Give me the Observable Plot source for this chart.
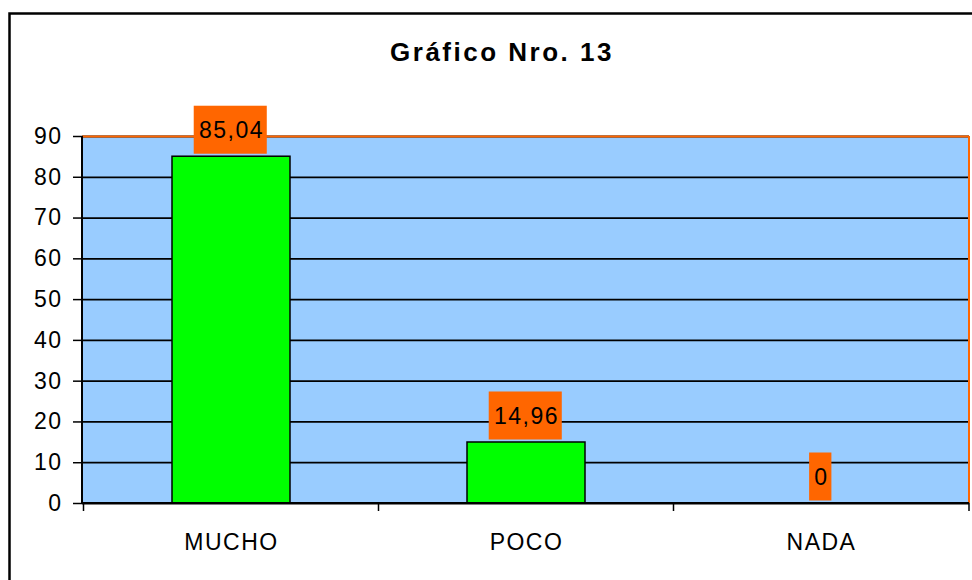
<!DOCTYPE html>
<html>
<head>
<meta charset="utf-8">
<script src="https://cdn.jsdelivr.net/npm/d3@7"></script>
<script src="https://cdn.jsdelivr.net/npm/@observablehq/plot@0.6"></script>
<style>
  html, body { margin: 0; padding: 0; background: white; }
  svg { display: block; }
  .chart text { letter-spacing: 1.5px; }
  .chart g[font-weight="bold"] text, .chart g[font-weight="bold"] { letter-spacing: 2.5px; }
</style>
</head>
<body>
<div id="chart"></div>
<script>
const title = "Gráfico Nro. 13";
const categories = ["MUCHO", "POCO", "NADA"];
const values = [85.04, 14.96, 0];
const valueLabels = ["85,04", "14,96", "0"];
const yTicks = [0, 10, 20, 30, 40, 50, 60, 70, 80, 90];

const data = categories.map((c, i) => ({category: c, value: values[i], label: valueLabels[i]}));

const ORANGE = "#FF6600";
const FONT = "'Liberation Sans', Arial, sans-serif";

// axis lines, category boundary ticks, orange plot-area edge, outer chart border
function axesDecor(index, scales, values, dims) {
  const {x, y} = scales;
  const g = d3.create("svg:g");
  const [x0, x1] = x.range();
  const yb = y(yTicks[0]);
  const yt = y(yTicks[yTicks.length - 1]);
  const edges = categories.map(c => x(c) + x.bandwidth() / 2 - x.step() / 2).concat([x1]);
  g.append("line").attr("x1", x1).attr("x2", x1).attr("y1", yt).attr("y2", yb)
    .attr("stroke", ORANGE).attr("stroke-width", 2);
  g.selectAll(".bt").data(edges).join("line")
    .attr("x1", d => d).attr("x2", d => d).attr("y1", yb).attr("y2", yb + 8)
    .attr("stroke", "black").attr("stroke-width", 1.5);
  g.append("line").attr("x1", x0).attr("x2", x1).attr("y1", yb).attr("y2", yb)
    .attr("stroke", "black").attr("stroke-width", 2);
  g.append("line").attr("x1", x0).attr("x2", x0).attr("y1", yt).attr("y2", yb)
    .attr("stroke", "black").attr("stroke-width", 2);
  g.append("rect").attr("x", 9.5).attr("y", 13.5)
    .attr("width", dims.width + 40).attr("height", dims.height + 40)
    .attr("fill", "none").attr("stroke", "black").attr("stroke-width", 2.5);
  return g.node();
}

// orange boxes behind the value labels, sized from the measured label text
const measureCtx = document.createElement("canvas").getContext("2d");
function labelBoxes(index, scales) {
  const {x, y} = scales;
  measureCtx.font = `23px ${FONT}`;
  const g = d3.create("svg:g");
  g.selectAll("rect").data(data).join("rect")
    .attr("width", d => measureCtx.measureText(d.label).width + 1.5 * d.label.length + 8)
    .attr("x", function(d) { return x(d.category) + x.bandwidth() / 2 - (+this.getAttribute("width")) / 2 - 0.75; })
    .attr("y", d => y(d.value) - 50.5)
    .attr("height", 48)
    .attr("fill", ORANGE);
  return g.node();
}

const plot = Plot.plot({
  width: 972,
  height: 580,
  marginLeft: 82,
  marginRight: 3,
  marginTop: 136,
  marginBottom: 77,
  className: "chart",
  style: {fontFamily: FONT, fontSize: "23px", color: "black", background: "white"},
  x: {domain: categories, paddingInner: 0.6, paddingOuter: 0.3, label: null},
  y: {domain: [0, 90], label: null},
  marks: [
    Plot.frame({fill: "#99CCFF", stroke: null}),
    Plot.gridY(yTicks, {stroke: "black", strokeOpacity: 1, strokeWidth: 1.8}),
    Plot.ruleY([yTicks[yTicks.length - 1]], {stroke: ORANGE, strokeWidth: 2}),
    Plot.barY(data, {x: "category", y: "value", fill: "#00FF00", stroke: "black", strokeWidth: 1.5}),
    axesDecor,
    Plot.axisY({ticks: yTicks, tickSize: 9, tickPadding: 11, fontSize: 23, strokeWidth: 1.5, label: null}),
    Plot.axisX({tickSize: 0, tickPadding: 30, fontSize: 23, label: null}),
    labelBoxes,
    Plot.text(data, {x: "category", y: "value", text: "label", dy: -26, lineAnchor: "middle", fontSize: 23, fill: "black"}),
    Plot.text([title], {text: d => d, frameAnchor: "top", dx: -24, dy: -84, lineAnchor: "middle", fontSize: 26, fontWeight: "bold", fill: "black"})
  ]
});

document.getElementById("chart").append(plot);
</script>
</body>
</html>
